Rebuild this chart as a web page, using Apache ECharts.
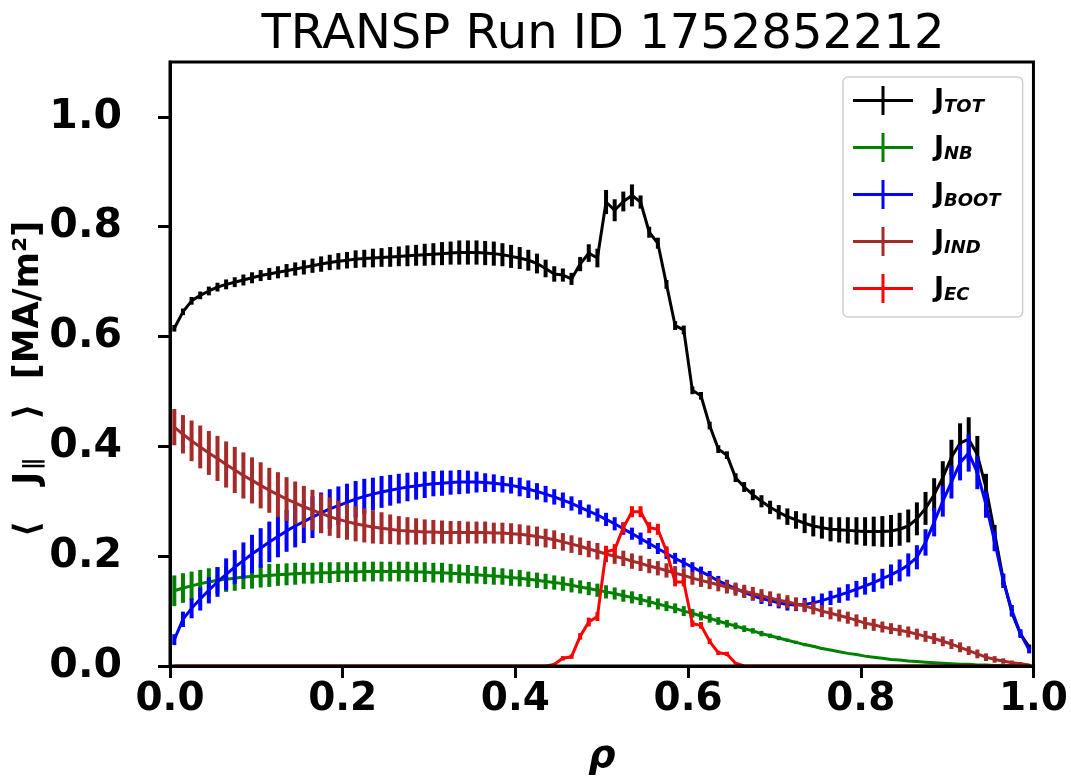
<!DOCTYPE html>
<html>
<head>
<meta charset="utf-8">
<script src="https://cdn.jsdelivr.net/npm/echarts@6/dist/echarts.min.js"></script>
<style>html,body{margin:0;padding:0;background:#fff;}#c{width:1071px;height:781px;}</style>
</head>
<body>
<div id="c"></div>
<script>
var rho = [0.005,0.015,0.025,0.035,0.045,0.055,0.065,0.075,0.085,0.095,
0.105,0.115,0.125,0.135,0.145,0.155,0.165,0.175,0.185,0.195,
0.205,0.215,0.225,0.235,0.245,0.255,0.265,0.275,0.285,0.295,
0.305,0.315,0.325,0.335,0.345,0.355,0.365,0.375,0.385,0.395,
0.405,0.415,0.425,0.435,0.445,0.455,0.465,0.475,0.485,0.495,
0.505,0.515,0.525,0.535,0.545,0.555,0.565,0.575,0.585,0.595,
0.605,0.615,0.625,0.635,0.645,0.655,0.665,0.675,0.685,0.695,
0.705,0.715,0.725,0.735,0.745,0.755,0.765,0.775,0.785,0.795,
0.805,0.815,0.825,0.835,0.845,0.855,0.865,0.875,0.885,0.895,
0.905,0.915,0.925,0.935,0.945,0.955,0.965,0.975,0.985,0.995];

var jTot = [0.615,0.645,0.665,0.675,0.683,0.690,0.695,0.699,0.703,0.707,
0.711,0.714,0.717,0.720,0.723,0.726,0.729,0.732,0.735,0.737,
0.739,0.741,0.742,0.743,0.744,0.745,0.746,0.747,0.748,0.749,
0.750,0.751,0.752,0.753,0.753,0.753,0.752,0.751,0.749,0.746,
0.743,0.739,0.733,0.724,0.714,0.712,0.705,0.732,0.752,0.743,
0.845,0.830,0.846,0.857,0.845,0.790,0.770,0.695,0.620,0.612,
0.502,0.492,0.438,0.395,0.384,0.343,0.326,0.312,0.300,0.289,
0.280,0.272,0.266,0.260,0.255,0.252,0.249,0.248,0.247,0.246,
0.245,0.245,0.245,0.246,0.249,0.255,0.268,0.287,0.312,0.343,
0.380,0.406,0.413,0.385,0.325,0.242,0.158,0.097,0.058,0.035];
var eTot = [0.006,0.006,0.007,0.007,0.008,0.008,0.009,0.009,0.010,0.010,
0.010,0.011,0.011,0.012,0.012,0.013,0.013,0.014,0.014,0.015,
0.015,0.016,0.016,0.017,0.017,0.018,0.018,0.019,0.019,0.020,
0.020,0.021,0.021,0.022,0.022,0.022,0.022,0.022,0.021,0.021,
0.020,0.019,0.018,0.016,0.014,0.012,0.011,0.013,0.016,0.017,
0.022,0.020,0.018,0.020,0.012,0.010,0.010,0.008,0.008,0.008,
0.007,0.007,0.007,0.007,0.007,0.008,0.009,0.010,0.011,0.012,
0.013,0.015,0.016,0.018,0.019,0.020,0.022,0.023,0.024,0.025,
0.026,0.027,0.028,0.029,0.030,0.030,0.030,0.030,0.030,0.030,
0.032,0.036,0.040,0.034,0.025,0.015,0.010,0.007,0.005,0.004];

var jNb = [0.137,0.142,0.146,0.150,0.153,0.156,0.158,0.160,0.162,0.163,
0.164,0.165,0.166,0.167,0.168,0.169,0.169,0.170,0.170,0.171,
0.171,0.171,0.172,0.172,0.172,0.172,0.172,0.172,0.171,0.171,
0.170,0.170,0.169,0.168,0.167,0.166,0.165,0.164,0.163,0.161,
0.160,0.158,0.156,0.154,0.152,0.150,0.147,0.144,0.141,0.138,
0.135,0.132,0.128,0.125,0.121,0.117,0.113,0.109,0.105,0.100,
0.096,0.091,0.087,0.082,0.077,0.073,0.068,0.064,0.059,0.055,
0.051,0.047,0.043,0.039,0.036,0.032,0.029,0.026,0.023,0.021,
0.018,0.016,0.014,0.012,0.011,0.009,0.008,0.007,0.006,0.005,
0.004,0.003,0.003,0.002,0.002,0.001,0.001,0.001,0.000,0.000];
var eNb = [0.028,0.027,0.026,0.025,0.025,0.024,0.023,0.023,0.022,0.022,
0.021,0.021,0.020,0.020,0.020,0.019,0.019,0.019,0.019,0.018,
0.018,0.018,0.018,0.018,0.018,0.018,0.018,0.018,0.018,0.018,
0.018,0.018,0.017,0.017,0.017,0.016,0.016,0.016,0.015,0.015,
0.015,0.014,0.014,0.014,0.013,0.013,0.013,0.012,0.012,0.012,
0.012,0.011,0.011,0.011,0.010,0.010,0.010,0.009,0.009,0.009,
0.008,0.008,0.008,0.007,0.007,0.006,0.006,0.005,0.005,0.004,
0.004,0.003,0.003,0.003,0.002,0.002,0.002,0.001,0.001,0.001,
0.001,0.001,0.001,0.001,0.001,0.000,0.000,0.000,0.000,0.000,
0.000,0.000,0.000,0.000,0.000,0.000,0.000,0.000,0.000,0.000];

var jBoot = [0.048,0.085,0.105,0.122,0.138,0.153,0.167,0.180,0.192,0.204,
0.215,0.226,0.236,0.246,0.255,0.263,0.271,0.279,0.286,0.292,
0.298,0.304,0.309,0.313,0.317,0.320,0.323,0.326,0.328,0.330,
0.332,0.333,0.334,0.335,0.335,0.335,0.334,0.333,0.331,0.329,
0.326,0.322,0.318,0.313,0.308,0.302,0.296,0.289,0.282,0.275,
0.267,0.259,0.250,0.241,0.232,0.223,0.214,0.205,0.196,0.188,
0.180,0.172,0.164,0.155,0.148,0.141,0.134,0.128,0.123,0.119,
0.115,0.112,0.111,0.112,0.115,0.119,0.124,0.129,0.134,0.140,
0.146,0.152,0.159,0.166,0.174,0.184,0.198,0.225,0.262,0.300,
0.335,0.370,0.388,0.352,0.294,0.227,0.155,0.101,0.059,0.029];
var eBoot = [0.010,0.014,0.018,0.021,0.024,0.027,0.029,0.031,0.033,0.035,
0.036,0.037,0.038,0.038,0.039,0.039,0.038,0.037,0.036,0.035,
0.034,0.033,0.032,0.030,0.029,0.028,0.027,0.026,0.025,0.024,
0.023,0.023,0.022,0.022,0.021,0.019,0.017,0.016,0.015,0.015,
0.017,0.016,0.015,0.015,0.014,0.014,0.013,0.013,0.012,0.012,
0.012,0.012,0.011,0.011,0.011,0.010,0.010,0.010,0.010,0.009,
0.009,0.009,0.009,0.009,0.009,0.009,0.009,0.009,0.010,0.010,
0.010,0.011,0.011,0.012,0.012,0.013,0.013,0.014,0.015,0.015,
0.016,0.017,0.018,0.019,0.020,0.021,0.022,0.024,0.026,0.028,
0.030,0.032,0.034,0.030,0.024,0.018,0.013,0.010,0.008,0.006];

var jInd = [0.435,0.422,0.410,0.399,0.388,0.378,0.367,0.357,0.347,0.338,
0.329,0.320,0.312,0.304,0.297,0.290,0.284,0.278,0.272,0.267,
0.263,0.259,0.256,0.253,0.251,0.249,0.247,0.246,0.245,0.244,
0.244,0.243,0.243,0.243,0.243,0.243,0.243,0.242,0.242,0.241,
0.240,0.238,0.236,0.233,0.230,0.226,0.222,0.218,0.213,0.209,
0.204,0.200,0.196,0.191,0.187,0.182,0.178,0.174,0.169,0.165,
0.160,0.156,0.152,0.148,0.144,0.140,0.136,0.132,0.128,0.124,
0.120,0.117,0.113,0.109,0.105,0.100,0.096,0.092,0.088,0.083,
0.078,0.075,0.071,0.068,0.065,0.062,0.058,0.054,0.050,0.045,
0.040,0.034,0.028,0.022,0.016,0.012,0.009,0.006,0.004,0.002];
var eInd = [0.033,0.035,0.037,0.039,0.040,0.041,0.042,0.042,0.042,0.042,
0.042,0.041,0.041,0.040,0.039,0.038,0.037,0.036,0.035,0.034,
0.033,0.032,0.031,0.030,0.029,0.027,0.026,0.025,0.024,0.023,
0.022,0.022,0.021,0.021,0.020,0.020,0.020,0.019,0.019,0.019,
0.018,0.018,0.018,0.017,0.017,0.016,0.016,0.016,0.015,0.015,
0.015,0.014,0.014,0.014,0.014,0.013,0.013,0.013,0.013,0.013,
0.012,0.012,0.012,0.012,0.012,0.012,0.012,0.012,0.012,0.012,
0.012,0.012,0.012,0.011,0.011,0.011,0.011,0.011,0.011,0.011,
0.011,0.011,0.010,0.010,0.010,0.010,0.010,0.010,0.010,0.009,
0.009,0.009,0.008,0.008,0.007,0.006,0.005,0.004,0.003,0.002];

var jEc = [0,0,0,0,0,0,0,0,0,0,
0,0,0,0,0,0,0,0,0,0,
0,0,0,0,0,0,0,0,0,0,
0,0,0,0,0,0,0,0,0,0,
0,0,0,0,0.003,0.014,0.017,0.054,0.080,0.090,
0.208,0.212,0.252,0.281,0.281,0.252,0.249,0.209,0.153,0.153,
0.077,0.074,0.045,0.024,0.022,0.005,0,0,0,0,
0,0,0,0,0,0,0,0,0,0,
0,0,0,0,0,0,0,0,0,0,
0,0,0,0,0,0,0,0,0,0];
var eEc = [0,0,0,0,0,0,0,0,0,0,
0,0,0,0,0,0,0,0,0,0,
0,0,0,0,0,0,0,0,0,0,
0,0,0,0,0,0,0,0,0,0,
0,0,0,0,0.002,0.004,0.004,0.006,0.008,0.008,
0.010,0.010,0.010,0.010,0.010,0.010,0.010,0.009,0.008,0.008,
0.006,0.006,0.005,0.004,0.004,0.002,0,0,0,0,
0,0,0,0,0,0,0,0,0,0,
0,0,0,0,0,0,0,0,0,0,
0,0,0,0,0,0,0,0,0,0];

var seriesNames = ['TOT','NB','BOOT','IND','EC'];
var seriesColors = ['#000000','#008000','#0000ff','#a52a2a','#ff0000'];
var xTicks = [0,0.2,0.4,0.6,0.8,1.0];
var yTicks = [0,0.2,0.4,0.6,0.8,1.0];
var titleText = 'TRANSP Run ID 1752852212';

var values = [jTot, jNb, jBoot, jInd, jEc];
var errors = [eTot, eNb, eBoot, eInd, eEc];

var series = [];
seriesNames.forEach(function (name, k) {
  var color = seriesColors[k];
  var lineData = rho.map(function (r, i) { return [r, values[k][i]]; });
  var barData = rho.map(function (r, i) { return [r, values[k][i], errors[k][i]]; });
  series.push({
    type: 'line', name: name, data: lineData, showSymbol: false, symbol: 'none',
    color: color, lineStyle: { color: color, width: 3 }, z: 2 + k * 2, animation: false
  });
  series.push({
    type: 'custom', name: name, data: barData, color: color, z: 3 + k * 2, clip: true,
    encode: { x: 0, y: 1 }, animation: false,
    renderItem: function (params, api) {
      var x = api.value(0), y = api.value(1), e = api.value(2);
      if (!(e > 0)) return null;
      var p1 = api.coord([x, y - e]);
      var p2 = api.coord([x, y + e]);
      return { type: 'line', shape: { x1: p1[0], y1: p1[1], x2: p2[0], y2: p2[1] },
               style: { stroke: color, lineWidth: 4 } };
    }
  });
});

var chart = echarts.init(document.getElementById('c'), null, { renderer: 'canvas' });
chart.setOption({
  backgroundColor: '#ffffff',
  animation: false,
  title: {
    text: titleText, left: 598, top: 7, textAlign: 'center',
    textStyle: { fontFamily: 'DejaVu Sans', fontSize: 48, fontWeight: 'normal', color: '#000' }
  },
  grid: { left: 170, right: 36, top: 62, bottom: 108, show: true, borderColor: '#000', borderWidth: 3, z: 20, backgroundColor: 'transparent' },
  xAxis: {
    type: 'value', min: 0, max: 1, interval: 0.2, z: 20,
    name: 'ρ', nameLocation: 'middle', nameGap: 72,
    nameTextStyle: { fontFamily: 'DejaVu Sans', fontSize: 38, fontWeight: 'bold', fontStyle: 'italic', color: '#000' },
    axisLine: { show: true, onZero: false, lineStyle: { color: '#000', width: 3 } },
    axisTick: { show: true, length: 12, lineStyle: { color: '#000', width: 3 }, customValues: xTicks },
    axisLabel: { customValues: xTicks, margin: 14, fontFamily: 'DejaVu Sans', fontSize: 39, fontWeight: 'bold', color: '#000',
      formatter: function (v) { return v.toFixed(1); } },
    splitLine: { show: false }
  },
  yAxis: {
    type: 'value', min: 0, max: 1.1, interval: 0.2, z: 20,
    name: '{n|⟨   J}{sub|∥}{n|   ⟩  [MA/m²]}', nameLocation: 'middle', nameRotate: 90, nameGap: 124,
    nameMoveOverlap: false,
    nameTextStyle: { fontFamily: 'DejaVu Sans', fontSize: 35, fontWeight: 'bold', color: '#000', padding: [0, 30, 0, 0],
      rich: { n: { fontFamily: 'DejaVu Sans', fontSize: 35, fontWeight: 'bold', color: '#000' },
              sub: { fontFamily: 'DejaVu Sans', fontSize: 23, fontWeight: 'bold', color: '#000', verticalAlign: 'bottom', padding: [0, 2, 0, 2] } } },
    axisLine: { show: true, onZero: false, lineStyle: { color: '#000', width: 3 } },
    axisTick: { show: true, length: 12, lineStyle: { color: '#000', width: 3 }, customValues: yTicks },
    axisLabel: { customValues: yTicks, margin: 48, fontFamily: 'DejaVu Sans', fontSize: 41, fontWeight: 'bold', color: '#000',
      formatter: function (v) { return v.toFixed(1); } },
    splitLine: { show: false }
  },
  legend: {
    show: true, left: 843, top: 77, orient: 'vertical',
    data: seriesNames,
    icon: 'path://M0,13 L60,13 L60,16 L0,16 Z M28.5,0 L31.5,0 L31.5,29 L28.5,29 Z',
    itemWidth: 60, itemHeight: 29, itemGap: 17,
    padding: [9, 22, 13, 10],
    backgroundColor: '#fff', borderColor: '#d0d0d0', borderWidth: 1.5, borderRadius: 5,
    z: 30,
    formatter: function (name) { return '{j|J}{s|' + name + '}'; },
    textStyle: {
      padding: [0, 0, 0, 16],
      rich: {
        j: { fontFamily: 'DejaVu Sans', fontSize: 27, fontWeight: 'bold', color: '#000' },
        s: { fontFamily: 'DejaVu Sans', fontSize: 18, fontWeight: 'bold', fontStyle: 'italic', color: '#000', verticalAlign: 'bottom', padding: [0, 0, -2, 0] }
      }
    }
  },
  series: series
});
</script>
</body>
</html>
